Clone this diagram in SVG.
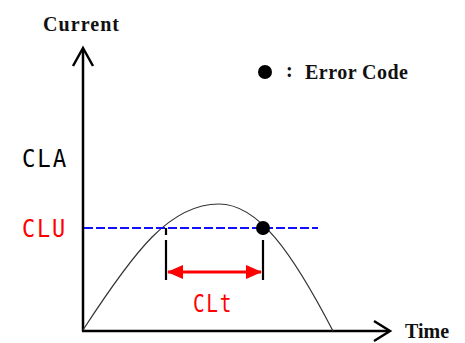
<svg xmlns="http://www.w3.org/2000/svg" width="465" height="343" viewBox="0 0 465 343">
<style>
.lbl{font-family:"Liberation Serif",serif;font-weight:bold;font-size:20px;fill:#111}
.seg{font-family:"DejaVu Sans Mono","Liberation Mono",monospace;font-size:24px;letter-spacing:2px}
.axis{stroke:#000;stroke-width:2.5;fill:none}
.head{stroke:#000;stroke-width:2.5;fill:none;stroke-linejoin:miter}
.tick{stroke:#000;stroke-width:2.2;stroke-dasharray:7 5 40}
</style>
<defs>
<marker id="redhead" viewBox="0 0 16 14" refX="15" refY="7" markerWidth="16" markerHeight="14" markerUnits="userSpaceOnUse" orient="auto-start-reverse">
<path d="M0,0 L16,7 L0,14 Z" fill="#ff0000"/>
</marker>
</defs>
<rect width="465" height="343" fill="#fff"/>
<g id="axes">
<line class="axis" x1="83" y1="49" x2="83" y2="331"/>
<line class="axis" x1="82" y1="331" x2="389" y2="331"/>
<polyline class="head" points="73,66 83,48 93,66"/>
<polyline class="head" points="374,321 390,331 374,341"/>
</g>
<g id="labels">
<text class="lbl" x="43" y="31" textLength="76">Current</text>
<text class="lbl" x="405" y="338" font-size="19">Time</text>
<text class="seg" x="22" y="167" fill="#000" textLength="46" lengthAdjust="spacingAndGlyphs">CLA</text>
<text class="seg" x="22" y="237" fill="#ff0000" textLength="45" lengthAdjust="spacingAndGlyphs">CLU</text>
<text class="seg" x="193" y="312" fill="#ff0000" textLength="40" lengthAdjust="spacingAndGlyphs">CLt</text>
</g>
<g id="legend">
<circle cx="265" cy="72" r="7" fill="#000"/>
<text class="lbl" x="286" y="77">:</text>
<text class="lbl" x="305" y="79" textLength="103">Error Code</text>
</g>
<g id="connectors">
<path d="M83,330 C135,250 170,204 219,204 C258,204 292,252 333,331" fill="none" stroke="#333" stroke-width="1.2"/>
<line x1="84" y1="228" x2="318" y2="228" stroke="#1010ff" stroke-width="2" stroke-dasharray="9 3"/>
<line class="tick" x1="166" y1="228" x2="166" y2="280"/>
<line class="tick" x1="263" y1="228" x2="263" y2="280"/>
<line x1="168" y1="272" x2="261" y2="272" stroke="#ff0000" stroke-width="3" marker-start="url(#redhead)" marker-end="url(#redhead)"/>
<circle id="error-dot" cx="263" cy="228" r="7" fill="#000"/>
</g>
</svg>
